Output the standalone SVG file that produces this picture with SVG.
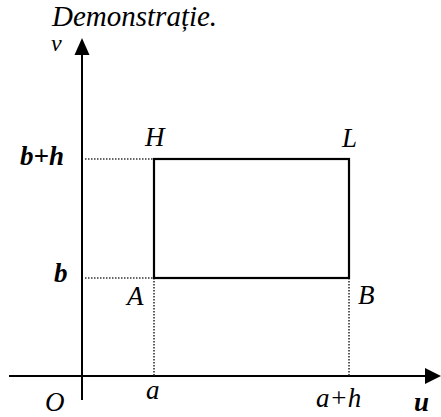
<svg xmlns="http://www.w3.org/2000/svg" width="441" height="417" viewBox="0 0 441 417">
<style>
.ax{stroke:#000;stroke-width:2;fill:none}
.dot{stroke:#333;stroke-width:1.6;stroke-dasharray:1.5 1.5;fill:none}
.rect{stroke:#000;stroke-width:2.2;fill:none}
.t{font-family:"Liberation Serif","Times New Roman",serif;font-style:italic;fill:#000}
</style>
<rect width="441" height="417" fill="#fff"/>
<text class="t" x="52" y="26" font-size="29">Demonstrație.</text>
<g id="axes">
<line class="ax" x1="82" y1="50" x2="82" y2="400"/>
<polygon points="82,38 74.5,55 89.5,55" fill="#000"/>
<line class="ax" x1="9" y1="376" x2="428" y2="376"/>
<polygon points="441,376 425,368 425,384" fill="#000"/>
</g>
<g id="guides">
<line class="dot" x1="85" y1="159" x2="154" y2="159"/>
<line class="dot" x1="85" y1="278" x2="154" y2="278"/>
<line class="dot" x1="154" y1="278" x2="154" y2="376"/>
<line class="dot" x1="349" y1="278" x2="349" y2="376"/>
</g>
<g id="rectangle">
<rect class="rect" x="154" y="159" width="195" height="119"/>
</g>
<g id="labels" font-size="27">
<text class="t" x="51" y="51" font-size="24">v</text>
<text class="t" x="20" y="165" font-weight="bold">b+h</text>
<text class="t" x="54" y="282" font-weight="bold">b</text>
<text class="t" x="145" y="146">H</text>
<text class="t" x="342" y="147">L</text>
<text class="t" x="127" y="305">A</text>
<text class="t" x="358" y="304">B</text>
<text class="t" x="45" y="411">O</text>
<text class="t" x="146" y="399">a</text>
<text class="t" x="316" y="407">a+h</text>
<text class="t" x="414" y="411" font-weight="bold">u</text>
</g>
</svg>
